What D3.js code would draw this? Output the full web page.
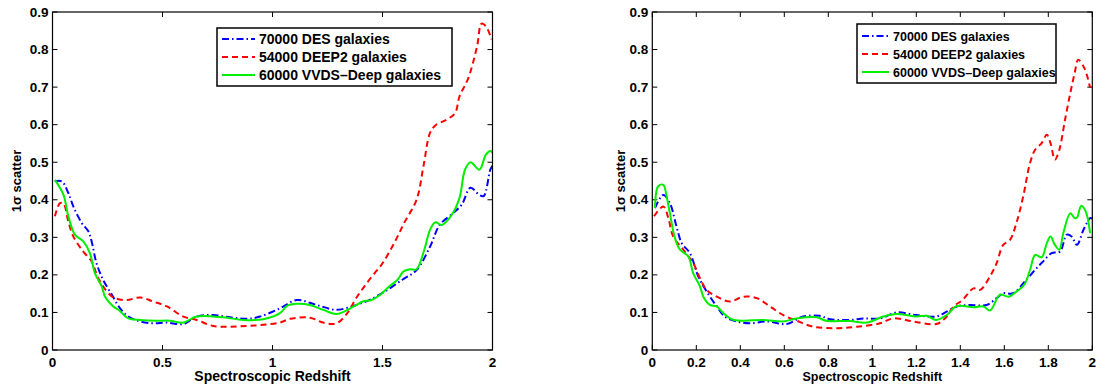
<!DOCTYPE html>
<html lang="en">
<head>
    <meta charset="UTF-8">
    <title>1 sigma scatter vs spectroscopic redshift</title>
    <script src="https://d3js.org/d3.v7.min.js"></script>
    <style>
        body { margin: 0; background: #fff; }
        text { font-family: "Liberation Sans", Arial, sans-serif; font-weight: bold; fill: #000; }
    </style>
</head>
<body>
    <div id="chart"></div>
    <script>
        // Legend labels
        const seriesNames = ["70000 DES galaxies", "54000 DEEP2 galaxies", "60000 VVDS\u2013Deep galaxies"];
        const yTicks = [0, 0.1, 0.2, 0.3, 0.4, 0.5, 0.6, 0.7, 0.8, 0.9];
        const xTicksLeft = [0, 0.5, 1, 1.5, 2];
        const xTicksRight = [0, 0.2, 0.4, 0.6, 0.8, 1, 1.2, 1.4, 1.6, 1.8, 2];

        // [redshift, scatter]
        const leftDES = [[0.01,0.449],[0.042,0.449],[0.072,0.418],[0.095,0.382],[0.133,0.338],[0.163,0.316],[0.178,0.289],[0.20,0.231],[0.23,0.187],[0.27,0.147],[0.307,0.111],[0.345,0.089],[0.40,0.076],[0.458,0.071],[0.52,0.073],[0.595,0.069],[0.655,0.089],[0.73,0.093],[0.807,0.087],[0.883,0.083],[0.943,0.089],[1.034,0.111],[1.11,0.133],[1.20,0.12],[1.29,0.107],[1.37,0.118],[1.44,0.133],[1.50,0.152],[1.59,0.187],[1.655,0.213],[1.716,0.275],[1.76,0.333],[1.82,0.364],[1.86,0.387],[1.90,0.432],[1.94,0.413],[1.96,0.41],[1.99,0.48],[2.0,0.49]];
        const leftDEEP2 = [[0.011,0.356],[0.034,0.391],[0.05,0.39],[0.072,0.342],[0.095,0.302],[0.14,0.262],[0.178,0.236],[0.208,0.191],[0.254,0.151],[0.284,0.138],[0.337,0.133],[0.40,0.14],[0.458,0.129],[0.52,0.116],[0.595,0.089],[0.655,0.08],[0.73,0.064],[0.807,0.062],[0.883,0.064],[0.958,0.067],[1.034,0.073],[1.08,0.083],[1.17,0.086],[1.23,0.073],[1.29,0.071],[1.34,0.098],[1.38,0.138],[1.44,0.187],[1.50,0.231],[1.557,0.289],[1.60,0.34],[1.655,0.40],[1.686,0.489],[1.716,0.578],[1.74,0.598],[1.79,0.613],[1.83,0.631],[1.85,0.675],[1.89,0.724],[1.93,0.809],[1.95,0.869],[1.97,0.862],[1.996,0.827]];
        const leftVVDS = [[0.011,0.453],[0.05,0.413],[0.072,0.356],[0.102,0.307],[0.14,0.289],[0.17,0.258],[0.193,0.204],[0.224,0.169],[0.239,0.142],[0.276,0.116],[0.30,0.107],[0.345,0.084],[0.40,0.08],[0.474,0.078],[0.534,0.078],[0.595,0.073],[0.655,0.089],[0.776,0.087],[0.867,0.08],[0.958,0.082],[1.034,0.098],[1.065,0.117],[1.11,0.123],[1.17,0.12],[1.23,0.107],[1.29,0.096],[1.37,0.116],[1.41,0.129],[1.45,0.133],[1.49,0.147],[1.53,0.169],[1.57,0.188],[1.595,0.209],[1.625,0.215],[1.655,0.215],[1.69,0.267],[1.716,0.32],[1.74,0.34],[1.77,0.333],[1.815,0.36],[1.85,0.405],[1.875,0.48],[1.90,0.50],[1.94,0.48],[1.97,0.52],[1.99,0.53],[2.0,0.525]];

        // [redshift, scatter]
        const rightDES = [[0.012,0.378],[0.05,0.413],[0.08,0.391],[0.11,0.329],[0.134,0.284],[0.171,0.258],[0.209,0.196],[0.247,0.156],[0.293,0.116],[0.33,0.089],[0.384,0.076],[0.444,0.071],[0.52,0.076],[0.611,0.069],[0.686,0.089],[0.762,0.091],[0.808,0.082],[0.899,0.08],[0.96,0.084],[1.035,0.084],[1.11,0.1],[1.20,0.093],[1.29,0.089],[1.338,0.102],[1.384,0.116],[1.44,0.12],[1.52,0.12],[1.565,0.138],[1.595,0.151],[1.64,0.151],[1.70,0.187],[1.747,0.218],[1.777,0.236],[1.815,0.258],[1.853,0.262],[1.884,0.307],[1.906,0.302],[1.93,0.28],[1.96,0.32],[1.99,0.351],[2.0,0.35]];
        const rightDEEP2 = [[0.008,0.356],[0.05,0.382],[0.073,0.351],[0.095,0.302],[0.141,0.267],[0.186,0.231],[0.217,0.191],[0.247,0.16],[0.293,0.142],[0.353,0.129],[0.414,0.142],[0.475,0.138],[0.535,0.116],[0.595,0.093],[0.656,0.078],[0.732,0.062],[0.838,0.058],[0.929,0.062],[1.035,0.071],[1.095,0.084],[1.186,0.076],[1.29,0.069],[1.33,0.084],[1.37,0.116],[1.41,0.133],[1.46,0.164],[1.49,0.16],[1.535,0.196],[1.565,0.231],[1.595,0.28],[1.626,0.293],[1.656,0.34],[1.686,0.409],[1.717,0.498],[1.74,0.533],[1.77,0.551],[1.793,0.573],[1.81,0.551],[1.83,0.507],[1.85,0.533],[1.876,0.613],[1.90,0.684],[1.92,0.738],[1.936,0.773],[1.96,0.755],[1.975,0.733],[1.99,0.698]];
        const rightVVDS = [[0.012,0.378],[0.027,0.436],[0.05,0.44],[0.065,0.409],[0.08,0.364],[0.103,0.298],[0.126,0.267],[0.164,0.249],[0.186,0.204],[0.217,0.169],[0.232,0.142],[0.262,0.12],[0.293,0.116],[0.323,0.098],[0.36,0.082],[0.414,0.078],[0.505,0.08],[0.595,0.076],[0.656,0.084],[0.747,0.087],[0.79,0.078],[0.899,0.077],[0.975,0.073],[1.05,0.089],[1.11,0.096],[1.20,0.089],[1.247,0.091],[1.29,0.08],[1.338,0.093],[1.384,0.117],[1.46,0.114],[1.505,0.116],[1.535,0.105],[1.58,0.147],[1.62,0.142],[1.656,0.156],[1.69,0.173],[1.717,0.213],[1.74,0.253],[1.77,0.247],[1.793,0.284],[1.81,0.302],[1.83,0.28],[1.85,0.267],[1.868,0.311],[1.9,0.364],[1.92,0.351],[1.93,0.352],[1.95,0.384],[1.97,0.369],[1.99,0.311]];

        const width = 1104, height = 385;
        const svg = d3.select("#chart").append("svg")
            .attr("width", width)
            .attr("height", height);

        // line styles: blue dash-dot, red dashed, green solid
        const styles = [
            { color: "#0000ff", dash: "7,3,1.5,3" },
            { color: "#ff0000", dash: "6,4" },
            { color: "#00ee00", dash: null }
        ];

        function drawPanel(p) {
            const x = d3.scaleLinear().domain([0, 2]).range([p.left, p.left + 440]);
            const y = d3.scaleLinear().domain([0, 0.9]).range([350, 12]);
            const g = svg.append("g");

            const tick = 5;
            // ticks along all four sides, inward
            p.xTicks.forEach(t => {
                g.append("line").attr("x1", x(t)).attr("x2", x(t)).attr("y1", 350).attr("y2", 350 - tick).attr("stroke", "#000");
                g.append("line").attr("x1", x(t)).attr("x2", x(t)).attr("y1", 12).attr("y2", 12 + tick).attr("stroke", "#000");
                g.append("text").attr("x", x(t)).attr("y", 367)
                    .attr("text-anchor", "middle").attr("font-size", p.tickFont)
                    .text(d3.format("~g")(t));
            });
            yTicks.forEach(t => {
                g.append("line").attr("x1", p.left).attr("x2", p.left + tick).attr("y1", y(t)).attr("y2", y(t)).attr("stroke", "#000");
                g.append("line").attr("x1", p.left + 440).attr("x2", p.left + 440 - tick).attr("y1", y(t)).attr("y2", y(t)).attr("stroke", "#000");
                g.append("text").attr("x", p.left - 4).attr("y", y(t) + 4.5)
                    .attr("text-anchor", "end").attr("font-size", p.tickFont)
                    .text(d3.format("~g")(t));
            });

            const clipId = "clip" + p.left;
            svg.append("clipPath").attr("id", clipId)
                .append("rect").attr("x", p.left).attr("y", 12).attr("width", 440).attr("height", 338);

            const line = d3.line()
                .x(d => x(d[0]))
                .y(d => y(d[1]))
                .curve(d3.curveCatmullRom.alpha(0.5));

            p.series.forEach((s, i) => {
                g.append("path")
                    .attr("clip-path", `url(#${clipId})`)
                    .attr("d", line(s))
                    .attr("fill", "none")
                    .attr("stroke", styles[i].color)
                    .attr("stroke-width", 2)
                    .attr("stroke-dasharray", styles[i].dash);
            });

            // axes box
            g.append("rect").attr("x", p.left).attr("y", 12).attr("width", 440).attr("height", 338)
                .attr("fill", "none").attr("stroke", "#000").attr("stroke-width", 1.2);

            g.append("text").attr("x", x(1)).attr("y", 381)
                .attr("text-anchor", "middle").attr("font-size", p.labelFont)
                .text("Spectroscopic Redshift");
            g.append("text")
                .attr("transform", `translate(${p.ylabelX},181) rotate(-90)`)
                .attr("text-anchor", "middle").attr("font-size", 13)
                .text("1\u03c3 scatter");

            // legend
            const L = p.legend;
            g.append("rect").attr("x", L.x).attr("y", L.y).attr("width", L.w).attr("height", L.h)
                .attr("fill", "#fff").attr("stroke", "#000").attr("stroke-width", 1.5);
            seriesNames.forEach((name, i) => {
                const cy = L.y + L.first + i * L.step;
                g.append("line")
                    .attr("x1", L.x + 5).attr("x2", L.x + 5 + L.len)
                    .attr("y1", cy).attr("y2", cy)
                    .attr("stroke", styles[i].color).attr("stroke-width", 2)
                    .attr("stroke-dasharray", styles[i].dash);
                g.append("text").attr("x", L.x + 9 + L.len).attr("y", cy + L.font * 0.36)
                    .attr("font-size", L.font).text(name);
            });
        }

        drawPanel({
            left: 52.5, xTicks: xTicksLeft, tickFont: 13.5, labelFont: 14, ylabelX: 21,
            series: [leftDES, leftDEEP2, leftVVDS],
            legend: { x: 217, y: 28, w: 235, h: 58, first: 11, step: 18, len: 33, font: 14 }
        });
        drawPanel({
            left: 652.3, xTicks: xTicksRight, tickFont: 13.5, labelFont: 12.5, ylabelX: 625,
            series: [rightDES, rightDEEP2, rightVVDS],
            legend: { x: 857, y: 24, w: 199, h: 59, first: 12, step: 18, len: 27, font: 12.5 }
        });
    </script>
</body>
</html>
